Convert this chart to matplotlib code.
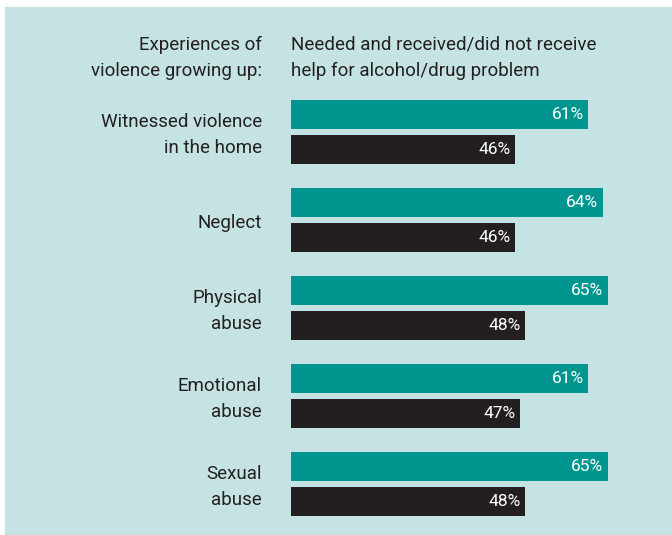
import matplotlib
matplotlib.use("Agg")
import matplotlib.pyplot as plt
import matplotlib.transforms as mtransforms
from matplotlib.patches import Rectangle
from matplotlib import font_manager

# data
categories = ["Witnessed violence\nin the home", "Neglect", "Physical\nabuse",
              "Emotional\nabuse", "Sexual\nabuse"]
received = [61, 64, 65, 61, 65]
not_received = [46, 46, 48, 47, 48]
header_left = "Experiences of\nviolence growing up:"
header_right = "Needed and received/did not receive\nhelp for alcohol/drug problem"

teal = "#00968f"
dark = "#231f20"
panel = "#c5e3e3"
text_col = "#231f20"

names = {f.name for f in font_manager.fontManager.ttflist}
font = "Liberation Sans Narrow" if "Liberation Sans Narrow" in names else "Roboto"
plt.rcParams["font.family"] = [font, "DejaVu Sans"]

W, H = 672, 535
fig = plt.figure(figsize=(W / 100, H / 100), dpi=100)
fig.patch.set_facecolor("white")
fig.add_artist(Rectangle((5 / W, 1 - 534 / H), 1, (534 - 7) / H,
                         transform=fig.transFigure, color=panel, zorder=0))

px_per_pct = 4.87
left = 291
ax = fig.add_axes([left / W, 0, 1 - left / W, 1])
ax.set_xlim(0, (W - left) / px_per_pct)
ax.set_ylim(H, 0)
ax.axis("off")
ax.patch.set_alpha(0)

bar_h = 29
first, step, off = 132, 88, 17.5
centers = [first + step * i for i in range(len(categories))]

ax.barh([c - off for c in centers], received, height=bar_h, color=teal)
ax.barh([c + off for c in centers], not_received, height=bar_h, color=dark)

for c, a, b in zip(centers, received, not_received):
    ax.text(a - 0.9, c - off, f"{a}%", color="white", ha="right", va="center",
            fontsize=12.5)
    ax.text(b - 0.9, c + off, f"{b}%", color="white", ha="right", va="center",
            fontsize=12.5)

tr = mtransforms.blended_transform_factory(fig.transFigure, ax.transData)
for c, lab in zip(centers, categories):
    ax.text(262 / W, c + 3, lab, transform=tr, ha="right", va="center",
            fontsize=13.5, color=text_col, linespacing=1.6)

ax.text(262 / W, 58, header_left, transform=tr, ha="right", va="center",
        fontsize=13.5, color=text_col, linespacing=1.6)
ax.text(left / W, 58, header_right, transform=tr, ha="left", va="center",
        fontsize=13.5, color=text_col, linespacing=1.6)

fig.savefig("out.png", dpi=100, facecolor=fig.get_facecolor())
